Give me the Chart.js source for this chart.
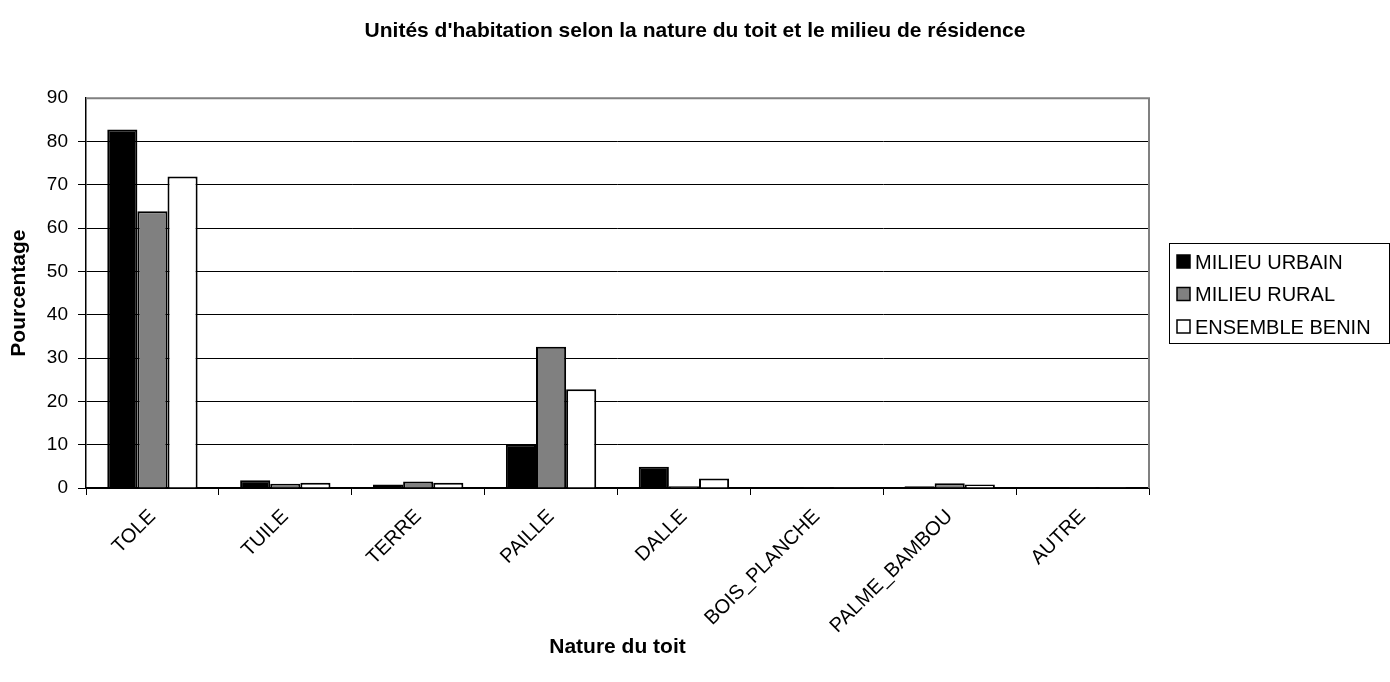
<!DOCTYPE html>
<html>
<head>
<meta charset="utf-8">
<script src="https://cdn.jsdelivr.net/npm/chart.js@4"></script>
<style>
  html, body { margin: 0; padding: 0; background: #fff; }
  #wrap { width: 1390px; height: 682px; }
</style>
</head>
<body>
<div id="wrap"><canvas id="chart" width="1390" height="682"></canvas></div>
<script>
// Categories (nature du toit)
const categories = ["TOLE", "TUILE", "TERRE", "PAILLE", "DALLE", "BOIS_PLANCHE", "PALME_BAMBOU", "AUTRE"];

// Percentages
const urbain   = [82.8, 1.8, 0.8, 10.1, 4.9, 0.05, 0.4, 0.2];
const rural    = [63.9, 1.0, 1.5, 32.6, 0.4, 0.05, 1.1, 0.2];
const ensemble = [71.9, 1.2, 1.2, 22.8, 2.2, 0.05, 0.8, 0.2];

const seriesLabels = ["MILIEU URBAIN", "MILIEU RURAL", "ENSEMBLE BENIN"];
const seriesColors = ["#000000", "#808080", "#ffffff"];

const yTicks = [0, 10, 20, 30, 40, 50, 60, 70, 80, 90];

const FONT = "Arial, 'Liberation Sans', sans-serif";

// Gray frame on top/right + boxed legend on the right
const framePlugin = {
  id: "frame",
  afterDraw(chart) {
    const { ctx, chartArea: a } = chart;
    ctx.save();
    ctx.strokeStyle = "#808080";
    ctx.lineWidth = 2;
    ctx.beginPath();
    ctx.moveTo(a.left, a.top);
    ctx.lineTo(a.right, a.top);
    ctx.lineTo(a.right, a.bottom);
    ctx.stroke();

    // legend
    const lx = 1169, ly = 243, lw = 220, lh = 100;
    ctx.strokeStyle = "#000";
    ctx.lineWidth = 1;
    ctx.strokeRect(lx + 0.5, ly + 0.5, lw, lh);
    ctx.font = "20px " + FONT;
    ctx.textBaseline = "middle";
    chart.data.datasets.forEach((ds, i) => {
      const cy = ly + 19 + i * 32.5;
      ctx.fillStyle = ds.backgroundColor;
      ctx.fillRect(lx + 8, cy - 7, 13, 13);
      ctx.strokeStyle = "#000";
      ctx.lineWidth = 1.5;
      ctx.strokeRect(lx + 8, cy - 7, 13, 13);
      ctx.fillStyle = "#000";
      ctx.fillText(ds.label, lx + 26, cy + 1);
    });
    ctx.restore();
  }
};

const datasets = [urbain, rural, ensemble].map((vals, i) => ({
  label: seriesLabels[i],
  data: vals,
  backgroundColor: seriesColors[i],
  borderColor: "#000",
  borderWidth: 2,
  borderSkipped: "bottom",
  categoryPercentage: 0.68,
  barPercentage: 1.0
}));

new Chart(document.getElementById("chart"), {
  type: "bar",
  data: { labels: categories, datasets },
  options: {
    responsive: false,
    animation: false,
    devicePixelRatio: 1,
    layout: { padding: { left: 0, right: 0, top: 0, bottom: 20 } },
    plugins: {
      legend: { display: false },
      tooltip: { enabled: false },
      title: {
        display: true,
        text: "Unités d'habitation selon la nature du toit et le milieu de résidence",
        color: "#000",
        font: { family: FONT, size: 21, weight: "bold" },
        padding: { top: 19, bottom: 54 }
      }
    },
    scales: {
      x: {
        grid: {
          offset: true,
          drawOnChartArea: false,
          drawTicks: true,
          tickLength: 7,
          color: "#000"
        },
        border: { color: "#000", width: 1.5 },
        ticks: {
          color: "#000",
          font: { family: FONT, size: 20 },
          maxRotation: 45,
          minRotation: 45,
          padding: 10
        },
        title: {
          display: true,
          text: "Nature du toit",
          color: "#000",
          font: { family: FONT, size: 21, weight: "bold" },
          padding: { top: 4, bottom: 2 }
        },
        afterFit(scale) { scale.height = 174; }
      },
      y: {
        min: 0,
        max: 90,
        afterBuildTicks(scale) { scale.ticks = yTicks.map(v => ({ value: v })); },
        grid: {
          color: ctx => (ctx.tick && ctx.tick.value === 90 ? "rgba(0,0,0,0)" : "#000"),
          lineWidth: 1,
          drawTicks: true,
          tickLength: 8
        },
        border: { color: "#000", width: 1.5 },
        ticks: {
          color: "#000",
          font: { family: FONT, size: 19 },
          padding: 10
        },
        title: {
          display: true,
          text: "Pourcentage",
          color: "#000",
          font: { family: FONT, size: 21, weight: "bold" },
          padding: { top: 7, bottom: 0 }
        },
        afterFit(scale) { scale.width = 86; }
      },
      // empty axis on the right, only to keep room for the legend box
      yRight: {
        position: "right",
        display: true,
        min: 0,
        max: 90,
        grid: { display: false, drawTicks: false },
        border: { display: false },
        ticks: { display: false },
        afterFit(scale) { scale.width = 241; }
      }
    }
  },
  plugins: [framePlugin]
});
</script>
</body>
</html>
